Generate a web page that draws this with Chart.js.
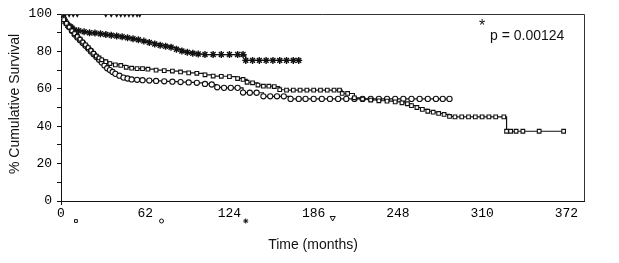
<!DOCTYPE html>
<html>
<head>
<meta charset="utf-8">
<script src="https://cdn.jsdelivr.net/npm/chart.js@4.4.1/dist/chart.umd.min.js"></script>
<style>
html,body{margin:0;padding:0;background:#fff;}
#wrap{width:619px;height:263px;position:relative;}
</style>
</head>
<body>
<div id="wrap"><canvas id="c" width="619" height="263"></canvas></div>
<script>
// ---- data (time in months, % cumulative survival) ----
const xTicks = [0, 62, 124, 186, 248, 310, 372];
const yTicks = [0, 20, 40, 60, 80, 100];
const axisTitleX = "Time (months)";
const axisTitleY = "% Cumulative Survival";
const pValueText = "p = 0.00124";

const squareTime = [0,2,4,6,8,10,12,14,16,18,20,22,24,26,28,30,33,36,40,44,48,52,56,60,64,70,76,82,88,94,100,106,112,118,124,130,134,137,141,145,149,153,157,161,166,171,176,181,186,191,196,201,205,207,211,216,222,228,234,240,246,251,255,258,262,266,270,274,278,282,286,290,295,300,305,310,315,320,326,328,331,335,340,352,370];
const squareSurv = [100,97,95,93,91,89.5,88,86.5,85,83.5,82,80.5,79,77.5,76.5,75.5,74.5,73.5,72.8,72.5,71.5,71,70.8,70.8,70.5,70,69.7,69.5,69,68.5,68.3,67.5,66.8,66.7,66.5,65.5,65,63.5,63.2,62,61.4,61.4,61.2,59.5,59.3,59.3,59.3,59.3,59.3,59.3,59.3,59.3,59.3,57.5,57.5,55.2,54.5,54,53.6,53.4,53,52.5,52,51,50,49,48,47.5,46.8,46.3,45.2,45,45,45,45,45,45,45,45,37.3,37.3,37.3,37.3,37.3,37.3];

const circleTime = [0,2,4,6,8,10,12,14,16,18,20,22,24,26,28,30,32,34,36,38,40,43,46,49,52,56,60,65,70,76,82,88,94,100,106,111,115,120,125,130,134,139,144,149,154,159,164,169,175,180,186,192,198,204,210,216,222,228,234,240,246,252,258,264,270,276,281,286];
const circleSurv = [100,97.5,95,93,91,89,87.5,86,84.5,83,81.5,80,78.5,77,75.5,74,72.5,71,70,69,68,67,66,65.5,65,64.8,64.6,64.4,64.2,64,63.8,63.6,63.4,63.2,62.6,62.3,60.8,60.5,60.5,60.5,58,57.9,57.9,56,56,56,56,54.6,54.6,54.6,54.6,54.6,54.6,54.6,54.6,54.6,54.6,54.6,54.6,54.6,54.6,54.6,54.6,54.6,54.6,54.6,54.6,54.6];

const starTime = [0,1,2,3,4,5,6,7,8,10,13,17,21,25,29,33,37,41,45,49,53,57,61,65,69,73,77,81,85,89,93,97,101,106,112,118,124,130,134,136,141,146,151,156,161,166,171,175];
const starSurv = [100,98.5,97,96,95,94,93.5,93,92.5,91.5,91,90.5,90,89.8,89.4,89,88.6,88.2,87.8,87.3,86.8,86.2,85.5,84.8,84,83.3,82.8,82.2,81.2,80.2,79.5,79,78.6,78.3,78.3,78.3,78.3,78.3,78.3,75.2,75.2,75.2,75.2,75.2,75.2,75.2,75.2,75.2];

const triangleTime = [0,3,6,9,12,33,37,41,44,47,50,53,56,58];
const triangleSurv = [100,100,100,100,100,100,100,100,100,100,100,100,100,100];

function pts(t, s){ return t.map((x,i)=>({x:x, y:s[i]})); }

function series(label, t, s, style, fill, rot){
  return {
    label: label,
    data: pts(t, s),
    stepped: 'before',
    borderColor: '#111',
    borderWidth: 1.2,
    pointStyle: style,
    pointRadius: style === 'star' ? 3.5 : 2.6,
    pointRotation: rot || 0,
    pointBackgroundColor: fill,
    pointBorderColor: '#111',
    pointBorderWidth: style === 'star' ? 1.4 : 1.1,
    fill: false,
    tension: 0
  };
}

const datasets = [
  series('square', squareTime, squareSurv, 'rect', '#fff'),
  series('circle', circleTime, circleSurv, 'circle', '#fff'),
  series('star', starTime, starSurv, 'star', '#111'),
  series('triangle', triangleTime, triangleSurv, 'triangle', '#fff', 180)
];

const legendMarks = [
  {style:'rect', x:11, rot:0, fill:'#fff', r:2},
  {style:'circle', x:74, rot:0, fill:'#fff', r:2},
  {style:'star', x:136, rot:0, fill:'#111', r:2.5},
  {style:'triangle', x:200, rot:180, fill:'#fff', r:3}
];

const decor = {
  id: 'decor',
  afterDraw(chart){
    const ctx = chart.ctx, a = chart.chartArea;
    const xs = chart.scales.x;
    ctx.save();
    // top and right frame
    ctx.strokeStyle = '#333';
    ctx.lineWidth = 1;
    ctx.beginPath();
    ctx.moveTo(a.left, Math.round(a.top)+0.5);
    ctx.lineTo(Math.round(a.right)+0.5, Math.round(a.top)+0.5);
    ctx.lineTo(Math.round(a.right)+0.5, a.bottom);
    ctx.stroke();
    // y axis small overhang below x axis
    ctx.strokeStyle = '#111';
    ctx.beginPath();
    ctx.moveTo(Math.round(a.left)+0.5, a.bottom);
    ctx.lineTo(Math.round(a.left)+0.5, a.bottom+4);
    ctx.stroke();
    // legend symbols under axis
    legendMarks.forEach(m=>{
      const px = xs.getPixelForValue(m.x);
      const py = m.style === 'triangle' ? 218 : 221;
      ctx.fillStyle = m.fill; ctx.strokeStyle = '#111'; ctx.lineWidth = 1;
      Chart.helpers.drawPoint(ctx, {pointStyle:m.style, radius:m.r, rotation:m.rot, borderWidth:1}, px, py);
    });
    // p value
    ctx.fillStyle = '#111';
    ctx.font = '14px "Liberation Sans", Arial, sans-serif';
    ctx.textBaseline = 'alphabetic';
    ctx.textAlign = 'left';
    ctx.fillText(pValueText, 490, 40);
    ctx.font = '16px "Liberation Sans", Arial, sans-serif';
    ctx.fillText('*', 479, 31);
    // axis titles
    ctx.font = '14px "Liberation Sans", Arial, sans-serif';
    ctx.textAlign = 'center';
    ctx.textBaseline = 'middle';
    ctx.fillText(axisTitleX, 313, 245);
    ctx.save();
    ctx.translate(15, 104);
    ctx.rotate(-Math.PI/2);
    ctx.fillText(axisTitleY, 0, 0);
    ctx.restore();
    ctx.restore();
  }
};

new Chart(document.getElementById('c'), {
  type: 'line',
  data: { datasets: datasets },
  plugins: [decor],
  options: {
    responsive: false,
    animation: false,
    devicePixelRatio: 1,
    layout: { padding: { left: 0, right: 35, top: 14, bottom: 0 } },
    plugins: { legend: { display: false }, tooltip: { enabled: false } },
    elements: { line: { borderJoinStyle: 'miter' } },
    scales: {
      x: {
        type: 'linear',
        min: 0,
        max: 385,
        afterBuildTicks(scale){ scale.ticks = xTicks.map(v=>({value:v})); },
        afterFit(scale){ scale.height = 62; },
        grid: { display: true, drawOnChartArea: false, drawTicks: false, color: '#111' },
        border: { display: true, color: '#111', width: 1 },
        ticks: {
          padding: 5,
          color: '#000',
          font: { family: '"Liberation Mono", "DejaVu Sans Mono", monospace', size: 13 },
          maxRotation: 0,
          autoSkip: false
        },
        title: { display: false }
      },
      y: {
        min: 0,
        max: 100,
        afterBuildTicks(scale){
          const t = [];
          for (let v = 0; v <= 100; v += 10) t.push({value: v});
          scale.ticks = t;
        },
        afterFit(scale){ scale.width = 61; },
        grid: { display: true, drawOnChartArea: false, drawTicks: true, tickLength: 4, color: '#111' },
        border: { display: true, color: '#111', width: 1 },
        ticks: {
          padding: 5,
          color: '#000',
          font: { family: '"Liberation Mono", "DejaVu Sans Mono", monospace', size: 13 },
          callback: (v) => yTicks.includes(v) ? String(v) : ''
        },
        title: { display: false }
      }
    }
  }
});
</script>
</body>
</html>
